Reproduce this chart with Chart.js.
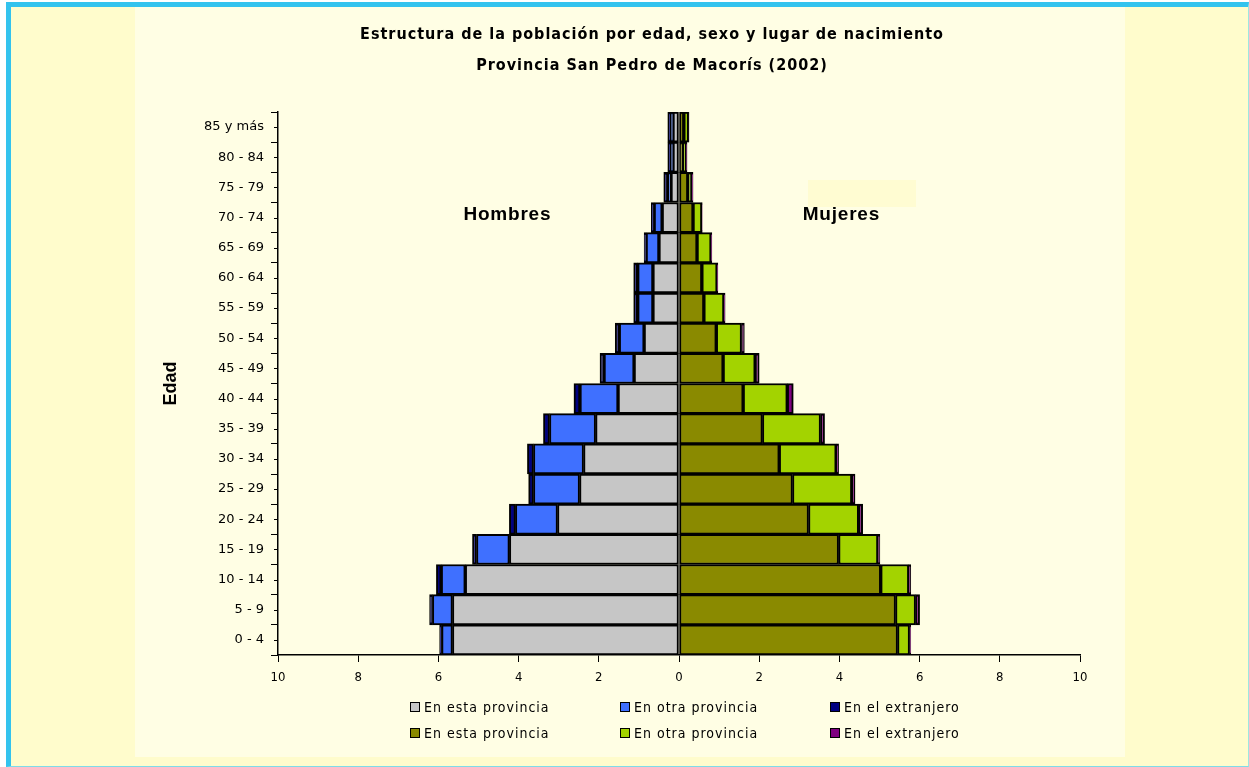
<!DOCTYPE html>
<html>
<head>
<meta charset="utf-8">
<script src="https://cdn.jsdelivr.net/npm/chart.js@4.4.1/dist/chart.umd.min.js"></script>
<style>
  html, body { margin: 0; padding: 0; background: #ffffff; }
  body { width: 1249px; height: 767px; position: relative; overflow: hidden; }
  #frame { position: absolute; left: 6px; top: 2px; width: 1237px; height: 759px;
    border-left: 5px solid #33c3ee; border-top: 5px solid #33c3ee;
    border-right: 1px solid #9fe6e0; border-bottom: 1px solid #7fdbe8; background: #fffccc; }
  #panel { position: absolute; left: 135px; top: 7px; width: 990px; height: 750px; background: #fffee4; }
  #box { position: absolute; left: 808px; top: 180px; width: 108px; height: 27px; background: #fffcd2; }
  #c { position: absolute; left: 0; top: 0; }
  .lg { position: absolute; font-family: 'DejaVu Sans Condensed', 'Liberation Sans', sans-serif;
    font-size: 14px; color: #000; white-space: nowrap; letter-spacing: 1px; line-height: 16px; }
  .lg span.sw { position: absolute; left: 0; top: 3px; width: 8px; height: 8px; border: 1px solid #000; }
  .lg span.tx { position: absolute; left: 14px; top: 0; }
</style>
</head>
<body>
<div id="frame"></div>
<div id="panel"></div>
<div id="box"></div>
<canvas id="c" width="1249" height="767"></canvas>
<div id="legend"></div>
<script>
// ---- Data (percent of population) ----
const categories = ['0 - 4','5 - 9','10 - 14','15 - 19','20 - 24','25 - 29','30 - 34','35 - 39','40 - 44','45 - 49','50 - 54','55 - 59','60 - 64','65 - 69','70 - 74','75 - 79','80 - 84','85 y más'];

const menThisProvince  = [5.65, 5.65, 5.33, 4.23, 3.03, 2.48, 2.38, 2.08, 1.52, 1.12, 0.87, 0.65, 0.65, 0.50, 0.42, 0.20, 0.15, 0.15];
const menOtherProvince = [0.27, 0.50, 0.60, 0.82, 1.05, 1.15, 1.25, 1.15, 0.95, 0.75, 0.62, 0.38, 0.38, 0.32, 0.20, 0.08, 0.05, 0.05];
const menAbroad        = [0.05, 0.07, 0.12, 0.10, 0.15, 0.12, 0.15, 0.15, 0.15, 0.10, 0.10, 0.10, 0.10, 0.05, 0.07, 0.10, 0.08, 0.08];

const womenThisProvince  = [5.45, 5.40, 5.03, 3.98, 3.23, 2.83, 2.50, 2.08, 1.60, 1.10, 0.93, 0.62, 0.57, 0.45, 0.35, 0.22, 0.10, 0.12];
const womenOtherProvince = [0.30, 0.50, 0.70, 0.98, 1.25, 1.48, 1.42, 1.45, 1.10, 0.80, 0.63, 0.50, 0.38, 0.35, 0.22, 0.10, 0.08, 0.12];
const womenAbroad        = [0.03, 0.10, 0.05, 0.05, 0.10, 0.08, 0.06, 0.10, 0.15, 0.10, 0.07, 0.03, 0.02, 0.02, 0.01, 0.03, 0.02, 0.01];

const xTickValues = [-10, -8, -6, -4, -2, 0, 2, 4, 6, 8, 10];
const titleLines = ['Estructura de la población por edad, sexo y lugar de nacimiento', 'Provincia San Pedro de Macorís (2002)'];
const legendLabels = ['En esta provincia', 'En otra provincia', 'En el extranjero'];
const sideLabels = [{ text: 'Hombres', value: -4.28, cat: '70 - 74' }, { text: 'Mujeres', value: 4.05, cat: '70 - 74' }];

const colors = {
  menThis: '#c6c6c6', menOther: '#3f70ff', menAbroad: '#000080',
  womenThis: '#8a8a00', womenOther: '#a3d300', womenAbroad: '#800080'
};

function ds(label, arr, sign, color) {
  return {
    label: label,
    data: arr.map(v => sign * v),
    backgroundColor: color,
    borderColor: '#000000',
    borderWidth: 2,
    borderSkipped: false,
    barPercentage: 1.0,
    categoryPercentage: 1.0,
    stack: 'pop'
  };
}

const datasets = [
  ds(legendLabels[0], menThisProvince, -1, colors.menThis),
  ds(legendLabels[1], menOtherProvince, -1, colors.menOther),
  ds(legendLabels[2], menAbroad, -1, colors.menAbroad),
  ds(legendLabels[0], womenThisProvince, 1, colors.womenThis),
  ds(legendLabels[1], womenOtherProvince, 1, colors.womenOther),
  ds(legendLabels[2], womenAbroad, 1, colors.womenAbroad)
];

const extrasPlugin = {
  id: 'extras',
  afterDraw(chart) {
    const ctx = chart.ctx;
    const xs = chart.scales.x, ys = chart.scales.y;
    ctx.save();
    // small ticks at category centres
    ctx.strokeStyle = '#000';
    ctx.lineWidth = 1;
    categories.forEach((c, i) => {
      const y = Math.round(ys.getPixelForValue(i)) + 0.5;
      ctx.beginPath();
      ctx.moveTo(chart.chartArea.left - 4, y);
      ctx.lineTo(chart.chartArea.left, y);
      ctx.stroke();
    });
    // title
    ctx.fillStyle = '#000';
    ctx.textAlign = 'center';
    ctx.textBaseline = 'middle';
    ctx.font = 'bold 16px "DejaVu Sans Condensed", "Liberation Sans", sans-serif';
    try { ctx.letterSpacing = '1px'; } catch (e) {}
    ctx.fillText(titleLines[0], 652, 35);
    ctx.fillText(titleLines[1], 652, 66);
    // side labels
    ctx.font = 'bold 19px "Liberation Sans", Arial, sans-serif';
    try { ctx.letterSpacing = '0.8px'; } catch (e) {}
    sideLabels.forEach(s => {
      ctx.fillText(s.text, xs.getPixelForValue(s.value), ys.getPixelForValue(categories.indexOf(s.cat)) - 3);
    });
    ctx.restore();
  }
};

new Chart(document.getElementById('c'), {
  type: 'bar',
  data: { labels: categories, datasets: datasets },
  plugins: [extrasPlugin],
  options: {
    indexAxis: 'y',
    responsive: false,
    animation: false,
    layout: { padding: { left: 150, right: 169, top: 112, bottom: 72 } },
    plugins: { legend: { display: false }, tooltip: { enabled: false }, title: { display: false } },
    scales: {
      x: {
        stacked: true,
        min: -10, max: 10,
        afterBuildTicks(scale) { scale.ticks = xTickValues.map(v => ({ value: v })); },
        afterFit(scale) { scale.height = 40; },
        ticks: {
          callback: v => String(Math.abs(v)),
          color: '#000',
          padding: 8,
          maxRotation: 0,
          font: { family: '"DejaVu Sans Condensed", "Liberation Sans", sans-serif', size: 13 }
        },
        grid: { drawOnChartArea: false, drawTicks: true, tickLength: 7, color: '#000', lineWidth: 1 },
        border: { display: true, color: '#000', width: 1.5 }
      },
      y: {
        stacked: true,
        reverse: true,
        afterFit(scale) { scale.width = 128; },
        ticks: {
          color: '#000',
          padding: 7,
          autoSkip: false,
          font: { family: '"DejaVu Sans", sans-serif', size: 13 }
        },
        grid: { offset: true, drawOnChartArea: false, drawTicks: true, tickLength: 7, color: '#000', lineWidth: 1 },
        border: { display: true, color: '#000', width: 1.5 },
        title: {
          display: true,
          text: 'Edad',
          color: '#000',
          padding: { top: 10, bottom: 0 },
          font: { family: '"Liberation Sans", Arial, sans-serif', size: 18, weight: 'bold' }
        }
      }
    }
  }
});

// Legend (built from datasets)
const legendEl = document.getElementById('legend');
const colX = [410, 620, 830];
const rowY = [699, 725];
datasets.forEach((d, i) => {
  const row = Math.floor(i / 3), col = i % 3;
  const item = document.createElement('div');
  item.className = 'lg';
  item.style.left = colX[col] + 'px';
  item.style.top = rowY[row] + 'px';
  const sw = document.createElement('span');
  sw.className = 'sw';
  sw.style.background = d.backgroundColor;
  const tx = document.createElement('span');
  tx.className = 'tx';
  tx.textContent = d.label;
  item.appendChild(sw);
  item.appendChild(tx);
  legendEl.appendChild(item);
});
</script>
</body>
</html>
